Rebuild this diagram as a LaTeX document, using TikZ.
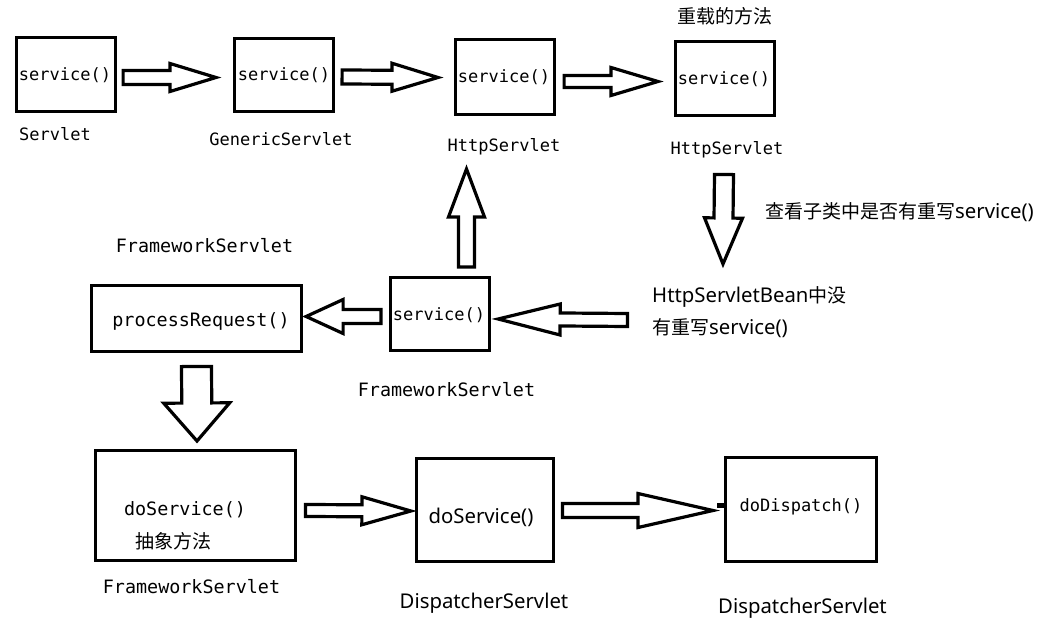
\documentclass[tikz,border=0pt]{standalone}
\usepackage{fontspec}
\setmonofont{DejaVu Sans Mono}
\setsansfont{Noto Sans}[Scale=1.07]
\newfontfamily\cjk{Noto Sans CJK SC}
\usetikzlibrary{calc}
\tikzset{
  box/.style={draw, line width=3.2pt, inner sep=0pt},
  blk/.style={draw, line width=3.2pt, fill=white, line join=miter, miter limit=20},
  monos/.style={font=\fontsize{17}{20}\selectfont\ttfamily, inner sep=0pt},
  monol/.style={font=\fontsize{18.4}{22}\selectfont\ttfamily, inner sep=0pt},
  sans/.style={font=\fontsize{19}{23}\selectfont\sffamily, inner sep=0pt},
}
\newcommand\blockarrow[5]{%
  \coordinate (bh) at ($(#2)!#5!(#1)$);
  \draw[blk] ($(#1)!#3!90:(#2)$) -- ($(bh)!#3!90:(#2)$) -- ($(bh)!#4!90:(#2)$) -- (#2)
    -- ($(bh)!#4!-90:(#2)$) -- ($(bh)!#3!-90:(#2)$) -- ($(#1)!#3!-90:(#2)$) -- cycle;}
\begin{document}
\begin{tikzpicture}[x=1pt,y=-1pt]
\useasboundingbox[fill=white] (0,0) rectangle (1044,623);
% boxes
\node[box, minimum width=99pt, minimum height=74pt] (b1) at (66,74.5) {};
\node[box, minimum width=99pt, minimum height=73pt] (b2) at (284,75) {};
\node[box, minimum width=99pt, minimum height=75pt] (b3) at (505,77) {};
\node[box, minimum width=99pt, minimum height=74pt] (b4) at (725,78.5) {};
\node[box, minimum width=210pt, minimum height=66pt] (b5) at (196.5,318.5) {};
\node[box, minimum width=99pt, minimum height=73pt] (b6) at (440,314) {};
\node[box, minimum width=200pt, minimum height=110pt] (b7) at (195.5,505.5) {};
\node[box, minimum width=137pt, minimum height=103pt] (b8) at (485,510) {};
\node[box, minimum width=151pt, minimum height=104pt] (b9) at (801,509.5) {};
% texts in boxes
\node[monos] (t1) at (65,75) {service()};
\node[monos] (t2) at (284,75) {service()};
\node[monos] (t3) at (504,77) {service()};
\node[monos] (t4) at (724,79) {service()};
\node[monos] (t6) at (439,315) {service()};
\node[monol] (t5) at (201,321) {processRequest()};
\node[monol] (t7) at (185,510) {doService()};
\node[sans] (t7b) at (173,541) {\cjk 抽象方法};
\node[sans] (t8) at (481,517) {doService()};
\node[monos] (t9) at (801,507) {doDispatch()};
% labels
\node[monos] (l1) at (55,134) {Servlet};
\node[monos] (l2) at (281,139) {GenericServlet};
\node[monos] (l3) at (504,147) {HttpServlet};
\node[monos] (l4) at (727,150) {HttpServlet};
\node[sans] (l4b) at (725,16) {\cjk 重载的方法};
\node[sans, anchor=west] (n1) at (765,212) {{\cjk 查看子类中是否有重写}service()};
\node[sans, anchor=west] (n2) at (652,297) {HttpServletBean{\cjk 中没}};
\node[sans, anchor=west] (n3) at (652,328) {{\cjk 有重写}service()};
\node[monol] (l5) at (204.5,246) {FrameworkServlet};
\node[monol] (l6) at (446.5,390) {FrameworkServlet};
\node[monol] (l7) at (191.5,587) {FrameworkServlet};
\node[sans] (l8) at (484,603) {DispatcherServlet};
\node[sans] (l9) at (802.5,608) {DispatcherServlet};
% arrow end points
\coordinate (a1s) at ($(b1.east)+(6,3)$);   \coordinate (a1e) at (216,77.5);
\coordinate (a2s) at ($(b2.east)+(7,2)$);   \coordinate (a2e) at (438,77.5);
\coordinate (a3s) at ($(b3.east)+(8,4.5)$); \coordinate (a3e) at (658,81.5);
\coordinate (a4s) at (724,174.5);           \coordinate (a4e) at (723,264);
\coordinate (a5s) at ($(b6.north)+(26.5,-9)$); \coordinate (a5e) at (466.5,169);
\coordinate (a6s) at ($(b6.west)+(-8,2.5)$);   \coordinate (a6e) at ($(b5.east)+(3,-2)$);
\coordinate (a7s) at (627.5,320);           \coordinate (a7e) at ($(b6.east)+(7,5)$);
\coordinate (a8s) at (196.5,366.5);         \coordinate (a8e) at (197,441);
\coordinate (a9s) at (305.5,510.5);         \coordinate (a9e) at ($(b8.west)+(-4,1)$);
\coordinate (a10s) at (562.5,510.5);        \coordinate (a10e) at (713,510.5);
\blockarrow{a1s}{a1e}{7pt}{14pt}{46pt}
\blockarrow{a2s}{a2e}{7pt}{14pt}{46pt}
\blockarrow{a3s}{a3e}{6pt}{14pt}{47pt}
\blockarrow{a4s}{a4e}{9.5pt}{19pt}{46pt}
\blockarrow{a5s}{a5e}{8pt}{18pt}{48pt}
\blockarrow{a6s}{a6e}{7pt}{17pt}{37pt}
\blockarrow{a7s}{a7e}{6.5pt}{15.5pt}{62pt}
\blockarrow{a8s}{a8e}{15pt}{33pt}{38pt}
\blockarrow{a9s}{a9e}{6pt}{14pt}{49pt}
\blockarrow{a10s}{a10e}{7pt}{17pt}{75pt}
\fill ($(b9.west)+(-6.5,-7)$) rectangle ($(b9.west)+(0,-2)$);
\end{tikzpicture}
\end{document}
